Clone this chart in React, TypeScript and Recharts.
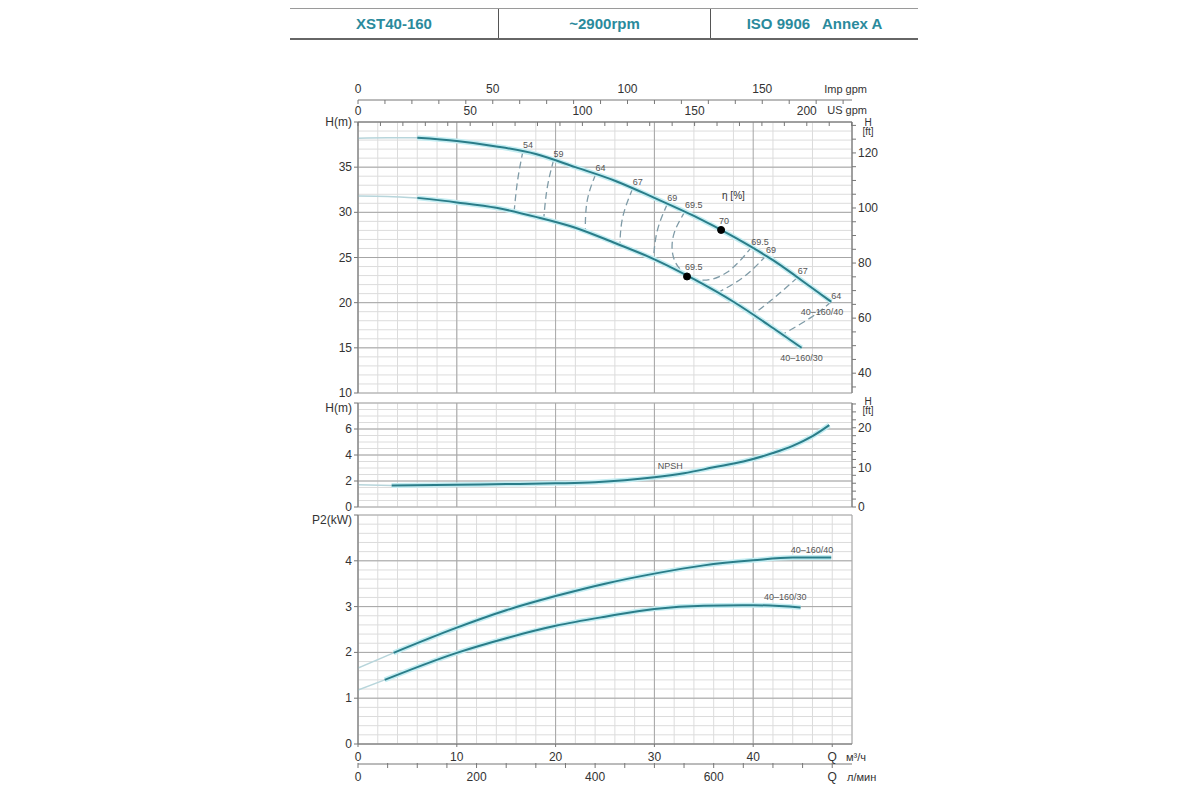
import React from 'react';
import { LineChart, Line, XAxis, YAxis, CartesianGrid, ReferenceDot } from 'recharts';

const FONT = '"Liberation Sans", Arial, sans-serif';
const TEAL = '#2a7d89';
const HALO = '#c4edf2';
const THIN = '#b7d5db';
const DASH = '#7f9ba7';
const GRID_MINOR = '#dcdcdc';
const GRID_MAJOR = '#a6a6a6';
const AXIS = '#777';
const TEXT = '#333';
const SMALL = '#555';

// unit conversions from m3/h and m
const Q_MAX = 50;
const IMP_GPM = 3.666;
const US_GPM = 4.403;
const L_MIN = 16.667;
const FT = 3.2808;

const range = (a: number, b: number, s: number) => {
  const out: number[] = [];
  for (let v = a; v <= b + 1e-9; v += s) out.push(Math.round(v * 1000) / 1000);
  return out;
};

// tick / grid values
const Q_MINOR = range(0, 50, 2);
const Q_MAJOR = [0, 10, 20, 30, 40, 50];
const Q_TICKS = [0, 10, 20, 30, 40, 48];
const IMP_TICKS = range(0, 180, 10);
const US_TICKS = range(0, 220, 10);
const LMIN_TICKS = range(0, 800, 50);
const H_MINOR = range(10, 40, 1);
const H_MAJOR = [10, 15, 20, 25, 30, 35, 40];
const HFT_TICKS = range(35, 130, 5);
const NPSH_MINOR = range(0, 8, 0.5);
const NPSH_MAJOR = [0, 2, 4, 6, 8];
const NPSHFT_TICKS = range(0, 26, 2);
const P_MINOR = range(0, 5, 0.2);
const P_MAJOR = [0, 1, 2, 3, 4, 5];

// head curves, Q [m3/h] -> H [m]
const h40Thin = [{ q: 0, h: 38.2 }, { q: 3, h: 38.25 }, { q: 6, h: 38.25 }];
const h40 = [
  { q: 6, h: 38.25 }, { q: 10, h: 37.9 }, { q: 14, h: 37.3 }, { q: 18, h: 36.45 },
  { q: 22, h: 35.0 }, { q: 26, h: 33.5 }, { q: 30, h: 31.6 }, { q: 34, h: 29.6 },
  { q: 38, h: 27.3 }, { q: 42, h: 24.7 }, { q: 46, h: 21.6 }, { q: 47.9, h: 20.1 },
];
const h30Thin = [{ q: 0, h: 31.8 }, { q: 3, h: 31.75 }, { q: 6, h: 31.6 }];
const h30 = [
  { q: 6, h: 31.6 }, { q: 10, h: 31.1 }, { q: 14, h: 30.5 }, { q: 18, h: 29.5 },
  { q: 22, h: 28.3 }, { q: 26, h: 26.6 }, { q: 30, h: 24.8 }, { q: 34, h: 22.6 },
  { q: 38, h: 20.1 }, { q: 42, h: 17.2 }, { q: 44.9, h: 15.0 },
];

// efficiency contours (dashed)
const eff54 = [{ q: 16.7, h: 36.8 }, { q: 16.15, h: 33.5 }, { q: 15.8, h: 30.05 }];
const eff59 = [{ q: 19.8, h: 35.8 }, { q: 19.15, h: 32.7 }, { q: 18.8, h: 29.3 }];
const eff64 = [{ q: 24.05, h: 34.2 }, { q: 23.2, h: 31.3 }, { q: 23.0, h: 27.9 }];
const eff67 = [{ q: 27.8, h: 32.65 }, { q: 26.8, h: 29.5 }, { q: 26.5, h: 26.4 }];
const eff69 = [{ q: 31.3, h: 30.9 }, { q: 30.3, h: 28.0 }, { q: 29.9, h: 24.85 }];
const eff695 = [
  { q: 33.1, h: 30.1 }, { q: 32.0, h: 27.7 }, { q: 31.85, h: 25.4 }, { q: 32.7, h: 23.6 },
  { q: 34.7, h: 22.5 }, { q: 37.4, h: 23.4 }, { q: 39.8, h: 26.1 },
];
const eff69R = [{ q: 41.3, h: 25.2 }, { q: 39.1, h: 22.9 }, { q: 36.4, h: 21.1 }];
const eff67R = [{ q: 44.5, h: 22.8 }, { q: 42.2, h: 20.6 }, { q: 40.0, h: 18.7 }];
const eff64R = [{ q: 47.9, h: 20.1 }, { q: 45.9, h: 18.4 }, { q: 43.0, h: 16.5 }];
const effContours = [eff54, eff59, eff64, eff67, eff69, eff695, eff69R, eff67R, eff64R];
const effLabels = [
  { text: '54', at: eff54[0] }, { text: '59', at: eff59[0] }, { text: '64', at: eff64[0] },
  { text: '67', at: eff67[0] }, { text: '69', at: eff69[0] }, { text: '69.5', at: eff695[0] },
  { text: '69.5', at: eff695[eff695.length - 1] }, { text: '69', at: eff69R[0] },
  { text: '67', at: eff67R[0] }, { text: '64', at: eff64R[0] },
];
const bestPoints = [
  { text: '70', q: 36.75, h: 28.05 },
  { text: '69.5', q: 33.3, h: 22.9 },
];

// NPSH, Q -> m
const npshThin = [{ q: 0, h: 1.72 }, { q: 3.4, h: 1.65 }];
const npsh = [
  { q: 3.4, h: 1.65 }, { q: 10, h: 1.72 }, { q: 15, h: 1.76 }, { q: 20, h: 1.82 },
  { q: 24, h: 1.9 }, { q: 27, h: 2.05 }, { q: 30, h: 2.28 }, { q: 33, h: 2.6 },
  { q: 36, h: 3.05 }, { q: 39, h: 3.5 }, { q: 42, h: 4.15 }, { q: 44, h: 4.7 },
  { q: 46, h: 5.45 }, { q: 47.7, h: 6.3 },
];

// shaft power P2, Q -> kW
const p40Thin = [{ q: 0, p: 1.66 }, { q: 3.6, p: 1.99 }];
const p40 = [
  { q: 3.6, p: 1.99 }, { q: 10, p: 2.54 }, { q: 15, p: 2.92 }, { q: 20, p: 3.23 },
  { q: 25, p: 3.5 }, { q: 30, p: 3.72 }, { q: 35, p: 3.9 }, { q: 40, p: 4.01 },
  { q: 44, p: 4.07 }, { q: 47.9, p: 4.07 },
];
const p30Thin = [{ q: 0, p: 1.18 }, { q: 2.7, p: 1.4 }];
const p30 = [
  { q: 2.7, p: 1.4 }, { q: 10, p: 1.99 }, { q: 15, p: 2.31 }, { q: 20, p: 2.58 },
  { q: 25, p: 2.78 }, { q: 30, p: 2.95 }, { q: 35, p: 3.02 }, { q: 40, p: 3.03 },
  { q: 44.8, p: 2.98 },
];

// secondary flow axes share the m3/h scale; their ticks are given in m3/h
const toQ = (vals: number[], f: number) => vals.map((v) => v / f);

const tickStyle = { fontSize: 12, fill: TEXT, fontFamily: FONT };

type Anchor = 'start' | 'middle' | 'end';
const tag = (text: string, dx: number, dy: number, anchor: Anchor = 'start', size = 9, color = SMALL) =>
  (props: any) => {
    const vb = props.viewBox || { x: 0, y: 0, width: 0, height: 0 };
    const cx = vb.x + (vb.width || 0) / 2;
    const cy = vb.y + (vb.height || 0) / 2;
    return (
      <text x={cx + dx} y={cy + dy} textAnchor={anchor} fontSize={size} fill={color} fontFamily={FONT}>
        {text}
      </text>
    );
  };

// unit text placed at the right end of an axis box
const unitRight = (text: string, dx: number, dy: number, anchor: Anchor) => (props: any) => {
  const vb = props.viewBox || { x: 0, y: 0, width: 0, height: 0 };
  return (
    <text x={vb.x + vb.width + dx} y={vb.y + dy} textAnchor={anchor} dominantBaseline="central"
      fontSize={11} fill={TEXT} fontFamily={FONT}>
      {text}
    </text>
  );
};

const ftUnit = (dy1: number, dy2: number) => (props: any) => {
  const vb = props.viewBox || { x: 0, y: 0 };
  const x = vb.x + 16;
  return (
    <g>
      <text x={x} y={vb.y + dy1} textAnchor="middle" fontSize={10} fill={TEXT} fontFamily={FONT}>H</text>
      <text x={x} y={vb.y + dy2} textAnchor="middle" fontSize={10} fill={TEXT} fontFamily={FONT}>[ft]</text>
    </g>
  );
};

const TopTick = (props: any) => {
  const { x, y, payload, factor } = props;
  const v = Math.round(payload.value * factor);
  return (
    <g>
      <line x1={x} y1={y} x2={x} y2={y + 4} stroke={AXIS} />
      {v % 50 === 0 && (
        <text x={x} y={y - 11} textAnchor="middle" dominantBaseline="central" {...tickStyle}>{v}</text>
      )}
    </g>
  );
};

const LminTick = (props: any) => {
  const { x, y, payload } = props;
  const v = Math.round(payload.value * L_MIN);
  return (
    <g>
      <line x1={x} y1={y - 1} x2={x} y2={y + 4} stroke={AXIS} />
      {v % 200 === 0 && (
        <text x={x} y={y + 13} textAnchor="middle" dominantBaseline="central" {...tickStyle}>
          {v === 800 ? 'Q' : v}
        </text>
      )}
    </g>
  );
};

// left value ticks; the top value shows the axis title instead
const LeftTick = (props: any) => {
  const { x, y, payload, top, title, dy } = props;
  const isTop = payload.value === top;
  return (
    <text x={x} y={y + (isTop ? dy : 0)} textAnchor="end" dominantBaseline="central" {...tickStyle}>
      {isTop ? title : payload.value}
    </text>
  );
};

const every20 = (v: number) => (v % 20 === 0 ? String(v) : '');
const every10 = (v: number) => (v % 10 === 0 ? String(v) : '');

const HChart = () => (
  <LineChart width={620} height={330} data={h40} margin={{ top: 8, right: 18, bottom: 7, left: 28 }}>
    <CartesianGrid stroke={GRID_MINOR} verticalValues={Q_MINOR} horizontalValues={H_MINOR} />
    <CartesianGrid stroke={GRID_MAJOR} verticalValues={Q_MAJOR} horizontalValues={H_MAJOR} />
    <XAxis xAxisId={0} dataKey="q" type="number" domain={[0, Q_MAX]} allowDataOverflow hide />
    <XAxis xAxisId="a" dataKey="q" orientation="top" type="number" domain={[0, Q_MAX]} allowDataOverflow
      ticks={toQ(US_TICKS, US_GPM)} interval={0} height={22} tickSize={0} tickMargin={0} tickLine={false}
      tick={(p: any) => <TopTick {...p} factor={US_GPM} />} axisLine={{ stroke: AXIS }}
      label={unitRight('US gpm', 15, 10, 'end')} />
    <XAxis xAxisId="b" dataKey="q" orientation="top" type="number" domain={[0, Q_MAX]} allowDataOverflow
      ticks={toQ(IMP_TICKS, IMP_GPM)} interval={0} height={22} tickSize={0} tickMargin={0} tickLine={false}
      tick={(p: any) => <TopTick {...p} factor={IMP_GPM} />} axisLine={{ stroke: AXIS }}
      label={unitRight('Imp gpm', 15, 11, 'end')} />
    <YAxis yAxisId={0} type="number" domain={[10, 40]} allowDataOverflow ticks={H_MAJOR} interval={0}
      width={40} tickSize={4} tickMargin={2} stroke={AXIS}
      tick={(p: any) => <LeftTick {...p} top={40} title="H(m)" dy={0} />} />
    <YAxis yAxisId="ft" orientation="right" type="number" domain={[10 * FT, 40 * FT]} allowDataOverflow
      ticks={HFT_TICKS} interval={0} width={40} tickSize={4} tickMargin={2} tick={tickStyle} stroke={AXIS}
      tickFormatter={every20} label={ftUnit(4, 13)} />

    <Line data={h40Thin} dataKey="h" type="monotone" stroke={THIN} strokeWidth={1.5} dot={false} activeDot={false} isAnimationActive={false} />
    <Line data={h30Thin} dataKey="h" type="monotone" stroke={THIN} strokeWidth={1.5} dot={false} activeDot={false} isAnimationActive={false} />
    {effContours.map((d, i) => (
      <Line key={`eff-${i}`} data={d} dataKey="h" type="natural" stroke={DASH} strokeWidth={1.3}
        strokeDasharray="7 4" dot={false} activeDot={false} isAnimationActive={false} />
    ))}
    <Line data={h40} dataKey="h" type="monotone" stroke={HALO} strokeWidth={5} dot={false} activeDot={false} isAnimationActive={false} />
    <Line data={h30} dataKey="h" type="monotone" stroke={HALO} strokeWidth={5} dot={false} activeDot={false} isAnimationActive={false} />
    <Line data={h40} dataKey="h" type="monotone" stroke={TEAL} strokeWidth={2} dot={false} activeDot={false} isAnimationActive={false} />
    <Line data={h30} dataKey="h" type="monotone" stroke={TEAL} strokeWidth={2} dot={false} activeDot={false} isAnimationActive={false} />

    {effLabels.map((l, i) => (
      <ReferenceDot key={`el-${i}`} x={l.at.q} y={l.at.h} r={0} stroke="none" fill="none" label={tag(l.text, 0, -3)} />
    ))}
    {bestPoints.map((b, i) => (
      <ReferenceDot key={`bp-${i}`} x={b.q} y={b.h} r={3.5} fill="#000" stroke="#000" label={tag(b.text, -2, -6)} />
    ))}
    <ReferenceDot x={38} y={31.8} r={0} stroke="none" fill="none" label={tag('η [%]', 0, 3, 'middle', 10, TEXT)} />
    <ReferenceDot x={h40[h40.length - 1].q} y={h40[h40.length - 1].h} r={0} stroke="none" fill="none"
      label={tag('40–160/40', 12, 13, 'end')} />
    <ReferenceDot x={h30[h30.length - 1].q} y={h30[h30.length - 1].h} r={0} stroke="none" fill="none"
      label={tag('40–160/30', 0, 13, 'middle')} />
  </LineChart>
);

const NpshChart = () => (
  <LineChart width={620} height={126} data={npsh} margin={{ top: 13, right: 18, bottom: 9, left: 28 }}>
    <CartesianGrid stroke={GRID_MINOR} verticalValues={Q_MINOR} horizontalValues={NPSH_MINOR} />
    <CartesianGrid stroke={GRID_MAJOR} verticalValues={Q_MAJOR} horizontalValues={NPSH_MAJOR} />
    <XAxis xAxisId={0} dataKey="q" type="number" domain={[0, Q_MAX]} allowDataOverflow hide />
    <YAxis yAxisId={0} type="number" domain={[0, 8]} allowDataOverflow ticks={NPSH_MAJOR} interval={0}
      width={40} tickSize={4} tickMargin={2} stroke={AXIS}
      tick={(p: any) => <LeftTick {...p} top={8} title="H(m)" dy={5} />} />
    <YAxis yAxisId="ft" orientation="right" type="number" domain={[0, 8 * FT]} allowDataOverflow
      ticks={NPSHFT_TICKS} interval={0} width={40} tickSize={4} tickMargin={2} tick={tickStyle} stroke={AXIS}
      tickFormatter={every10} label={ftUnit(2, 11)} />
    <Line data={npshThin} dataKey="h" type="monotone" stroke={THIN} strokeWidth={1.5} dot={false} activeDot={false} isAnimationActive={false} />
    <Line data={npsh} dataKey="h" type="monotone" stroke={HALO} strokeWidth={5} dot={false} activeDot={false} isAnimationActive={false} />
    <Line data={npsh} dataKey="h" type="monotone" stroke={TEAL} strokeWidth={2} dot={false} activeDot={false} isAnimationActive={false} />
    <ReferenceDot x={31.6} y={3.15} r={0} stroke="none" fill="none" label={tag('NPSH', 0, 3, 'middle')} />
  </LineChart>
);

const PowerChart = () => (
  <LineChart width={620} height={280} data={p40} margin={{ top: 5, right: 58, bottom: 2, left: 28 }}>
    <CartesianGrid stroke={GRID_MINOR} verticalValues={Q_MINOR} horizontalValues={P_MINOR} />
    <CartesianGrid stroke={GRID_MAJOR} verticalValues={Q_MAJOR} horizontalValues={P_MAJOR} />
    <XAxis xAxisId={0} dataKey="q" type="number" domain={[0, Q_MAX]} allowDataOverflow ticks={Q_TICKS}
      interval={0} height={20} tickSize={3} tickMargin={5} tick={tickStyle} stroke={AXIS}
      tickFormatter={(v: number) => (v === 48 ? 'Q' : String(v))}
      label={unitRight('м³/ч', -6, 13, 'start')} />
    <XAxis xAxisId="lmin" dataKey="q" type="number" domain={[0, Q_MAX]} allowDataOverflow
      ticks={toQ(LMIN_TICKS, L_MIN)} interval={0} height={24} tickSize={0} tickMargin={0} tickLine={false}
      tick={(p: any) => <LminTick {...p} />} axisLine={{ stroke: AXIS }}
      label={unitRight('л/мин', -5, 13, 'start')} />
    <YAxis yAxisId={0} type="number" domain={[0, 5]} allowDataOverflow ticks={P_MAJOR} interval={0}
      width={40} tickSize={4} tickMargin={2} stroke={AXIS}
      tick={(p: any) => <LeftTick {...p} top={5} title="P2(kW)" dy={5} />} />
    <Line data={p40Thin} dataKey="p" type="monotone" stroke={THIN} strokeWidth={1.5} dot={false} activeDot={false} isAnimationActive={false} />
    <Line data={p30Thin} dataKey="p" type="monotone" stroke={THIN} strokeWidth={1.5} dot={false} activeDot={false} isAnimationActive={false} />
    <Line data={p40} dataKey="p" type="monotone" stroke={HALO} strokeWidth={5} dot={false} activeDot={false} isAnimationActive={false} />
    <Line data={p30} dataKey="p" type="monotone" stroke={HALO} strokeWidth={5} dot={false} activeDot={false} isAnimationActive={false} />
    <Line data={p40} dataKey="p" type="monotone" stroke={TEAL} strokeWidth={2} dot={false} activeDot={false} isAnimationActive={false} />
    <Line data={p30} dataKey="p" type="monotone" stroke={TEAL} strokeWidth={2} dot={false} activeDot={false} isAnimationActive={false} />
    <ReferenceDot x={p40[p40.length - 1].q} y={p40[p40.length - 1].p} r={0} stroke="none" fill="none"
      label={tag('40–160/40', 2, -5, 'end')} />
    <ReferenceDot x={p30[p30.length - 1].q} y={p30[p30.length - 1].p} r={0} stroke="none" fill="none"
      label={tag('40–160/30', 6, -8, 'end')} />
  </LineChart>
);

const headerCell: React.CSSProperties = {
  display: 'flex', alignItems: 'center', justifyContent: 'center', height: '100%',
  color: '#2a8a9c', fontWeight: 'bold', fontSize: 15, whiteSpace: 'pre',
};

const Header = () => (
  <div style={{
    position: 'absolute', left: 290, top: 8, width: 628, height: 29, display: 'flex',
    borderTop: '1px solid #9a9a9a', borderBottom: '2px solid #666', fontFamily: FONT,
  }}>
    <div style={{ ...headerCell, width: 208, borderRight: '1px solid #555' }}>XST40-160</div>
    <div style={{ ...headerCell, width: 211, borderRight: '1px solid #555' }}>~2900rpm</div>
    <div style={{ ...headerCell, flex: 1 }}>{'ISO 9906   Annex A'}</div>
  </div>
);

export default function App() {
  return (
    <div style={{ position: 'absolute', left: 0, top: 0, width: 1200, height: 800, background: '#fff', fontFamily: FONT }}>
      <Header />
      <div style={{ position: 'absolute', left: 290, top: 70 }}><HChart /></div>
      <div style={{ position: 'absolute', left: 290, top: 390 }}><NpshChart /></div>
      <div style={{ position: 'absolute', left: 290, top: 510 }}><PowerChart /></div>
    </div>
  );
}
